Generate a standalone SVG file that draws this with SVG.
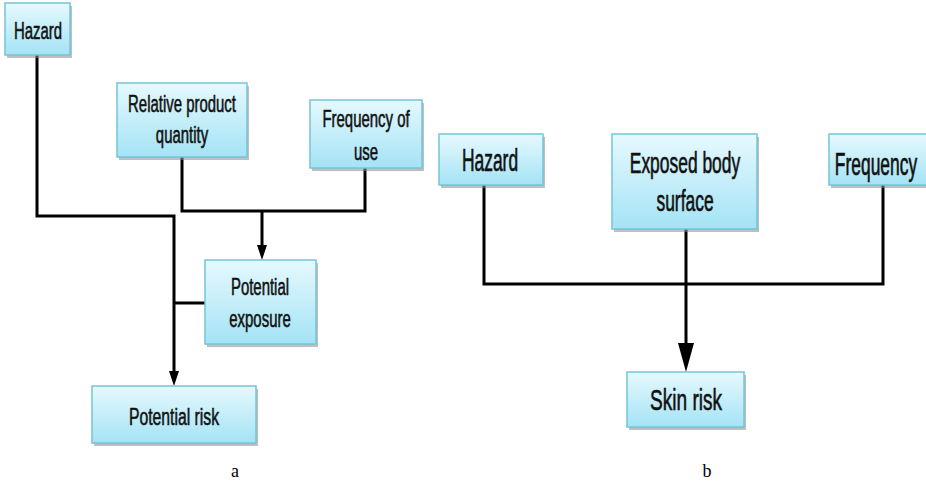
<svg xmlns="http://www.w3.org/2000/svg" width="926" height="483" viewBox="0 0 926 483">
<defs>
<linearGradient id="g" x1="0" y1="0" x2="0" y2="1">
<stop offset="0" stop-color="#e6f9fe"/>
<stop offset="1" stop-color="#a4e3f5"/>
</linearGradient>
</defs>
<style>
.box{fill:url(#g);stroke:#74c5d8;stroke-width:1.5}
.sh{fill:#8a8a8a;opacity:0.55}
.t{font-family:"Liberation Sans",Arial,sans-serif;fill:#111;stroke:#111;stroke-width:0.45;text-anchor:middle}
.c{fill:none;stroke:#000;stroke-width:3}
.lbl{font-family:"Liberation Serif","Times New Roman",serif;font-size:18px;fill:#000;text-anchor:middle}
</style>
<rect width="926" height="483" fill="#fff"/>
<g id="connectors">
<polyline class="c" points="37,55 37,216 174,216 174,372"/>
<path d="M169,371 L179,371 L174,386 Z"/>
<line class="c" x1="174" y1="303" x2="205" y2="303"/>
<polyline class="c" points="182,157 182,211 365,211 365,168"/>
<line class="c" x1="262" y1="211" x2="262" y2="246"/>
<path d="M257,245 L267,245 L262,260 Z"/>
<polyline class="c" points="484,185 484,284 883,284 883,185"/>
<line class="c" x1="686" y1="229" x2="686" y2="345"/>
<path d="M678,343 L694,343 L686,372 Z"/>
</g>
<g id="hazard-a">
<rect class="sh" x="7" y="6" width="65" height="52"/>
<rect class="box" x="5" y="3" width="65" height="52"/>
<text class="t" font-size="18" transform="matrix(0.83 0 0 1.28 38 38.5)">Hazard</text>
</g>
<g id="relative-product-quantity">
<rect class="sh" x="119" y="86" width="130" height="74"/>
<rect class="box" x="117" y="83" width="130" height="74"/>
<text class="t" font-size="18" transform="matrix(0.83 0 0 1.28 182 112)">Relative product</text>
<text class="t" font-size="18" transform="matrix(0.83 0 0 1.28 182 143)">quantity</text>
</g>
<g id="frequency-of-use">
<rect class="sh" x="312" y="103" width="112" height="68"/>
<rect class="box" x="310" y="100" width="112" height="68"/>
<text class="t" font-size="18" transform="matrix(0.83 0 0 1.28 366 127)">Frequency of</text>
<text class="t" font-size="18" transform="matrix(0.83 0 0 1.28 366 160)">use</text>
</g>
<g id="potential-exposure">
<rect class="sh" x="207" y="263" width="111" height="84"/>
<rect class="box" x="205" y="260" width="111" height="84"/>
<text class="t" font-size="18" transform="matrix(0.83 0 0 1.28 260 295)">Potential</text>
<text class="t" font-size="18" transform="matrix(0.83 0 0 1.28 260 327)">exposure</text>
</g>
<g id="potential-risk">
<rect class="sh" x="94" y="389" width="164" height="57"/>
<rect class="box" x="92" y="386" width="164" height="57"/>
<text class="t" font-size="19" transform="matrix(0.83 0 0 1.28 174 425)">Potential risk</text>
</g>
<g id="hazard-b">
<rect class="sh" x="441" y="137" width="104" height="51"/>
<rect class="box" x="439" y="134" width="104" height="51"/>
<text class="t" font-size="21" transform="matrix(0.83 0 0 1.45 490 171)">Hazard</text>
</g>
<g id="exposed-body-surface">
<rect class="sh" x="614" y="137" width="145" height="95"/>
<rect class="box" x="612" y="134" width="145" height="95"/>
<text class="t" font-size="21" transform="matrix(0.83 0 0 1.4 685 173)">Exposed body</text>
<text class="t" font-size="21" transform="matrix(0.83 0 0 1.4 685 211)">surface</text>
</g>
<g id="frequency">
<rect class="sh" x="831" y="137" width="100" height="51"/>
<rect class="box" x="829" y="134" width="100" height="51"/>
<text class="t" font-size="21" transform="matrix(0.83 0 0 1.45 876 175)">Frequency</text>
</g>
<g id="skin-risk">
<rect class="sh" x="629" y="375" width="117" height="55"/>
<rect class="box" x="627" y="372" width="117" height="55"/>
<text class="t" font-size="23" transform="matrix(0.83 0 0 1.3 686 410)">Skin risk</text>
</g>
<text class="lbl" x="235" y="477">a</text>
<text class="lbl" x="707" y="477">b</text>
</svg>
